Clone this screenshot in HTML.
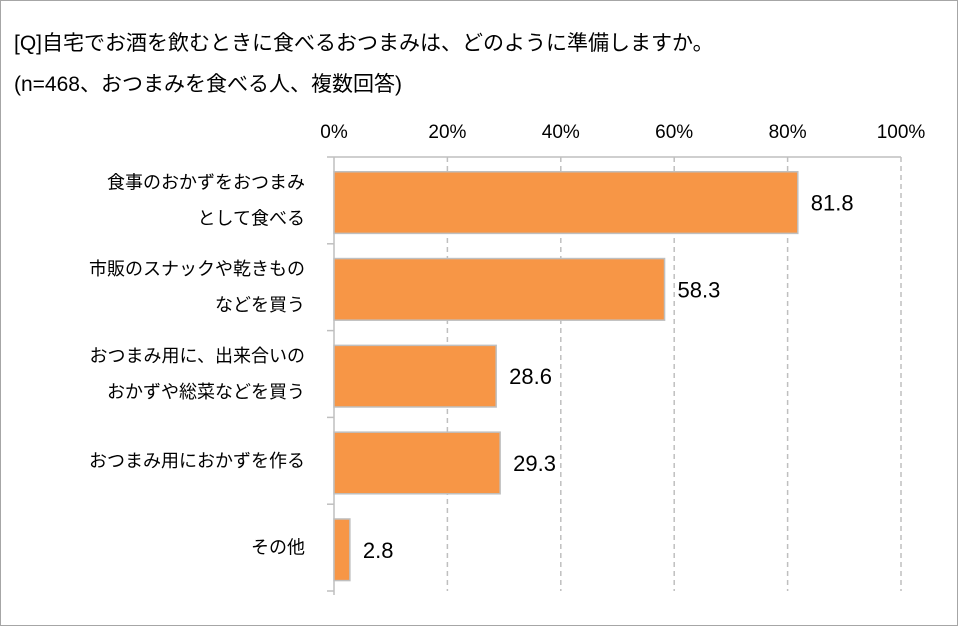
<!DOCTYPE html>
<html><head><meta charset="utf-8"><style>
body{margin:0;background:#fff}
svg text{font-family:"Liberation Sans","Noto Sans CJK JP",sans-serif;fill:#000}
</style></head><body>
<svg width="958" height="626" xmlns="http://www.w3.org/2000/svg">
<rect x="0.5" y="0.5" width="957" height="625" fill="#fff" stroke="#a6a6a6"/>
<text x="14" y="50" font-size="21">[Q]自宅でお酒を飲むときに食べるおつまみは、どのように準備しますか。</text>
<text x="14" y="91" font-size="21">(n=468、おつまみを食べる人、複数回答)</text>
<g id="plot"></g>
</svg>
<script>
const categories=[["食事のおかずをおつまみ","として食べる"],["市販のスナックや乾きもの","などを買う"],["おつまみ用に、出来合いの","おかずや総菜などを買う"],["おつまみ用におかずを作る"],["その他"]];
const values=[81.8,58.3,28.6,29.3,2.8];
const ticks=[0,20,40,60,80,100];
const tickLabels=["0%","20%","40%","60%","80%","100%"];
const NS="http://www.w3.org/2000/svg";
const g=document.getElementById('plot');
const x0=334,x1=901,y0=157,y1=591;
const xs=v=>x0+(x1-x0)*v/100;
const band=(y1-y0)/categories.length;
function mk(t,a,p){const e=document.createElementNS(NS,t);for(const k in a)e.setAttribute(k,a[k]);(p||g).appendChild(e);return e;}
ticks.forEach((t,i)=>{
 if(t>0){const l=mk('line',{x1:xs(t),x2:xs(t),y1:y0,y2:y1,stroke:'#bfbfbf','stroke-width':1.5,'stroke-dasharray':'5,4'});
 
 }
 const tx=mk('text',{x:xs(t),y:138,'font-size':19,'text-anchor':'middle'});tx.textContent=tickLabels[i];
 
 
});
const topLine=mk('line',{x1:x0,x2:x1,y1:y0,y2:y0,stroke:'#bfbfbf','stroke-width':1.5});


const ax=mk('line',{x1:x0,x2:x0,y1:y0,y2:y1+4,stroke:'#bfbfbf','stroke-width':1.5});


for(let i=0;i<=categories.length;i++){const tk=mk('line',{x1:x0-7,x2:x0,y1:y0+band*i,y2:y0+band*i,stroke:'#bfbfbf','stroke-width':1.5});
 
 }
categories.forEach((c,i)=>{
 const by=y0+band*i+band*0.17,bh=band*0.71;
 const r=mk('rect',{x:x0,y:by,width:xs(values[i])-x0,height:bh,fill:'#f79646',stroke:'#bfbfbf','stroke-width':1.5});
 
 
 const v=mk('text',{x:xs(values[i])+13,y:by+bh/2+8,'font-size':22});v.textContent=values[i].toFixed(1);
 
 
 const cy=y0+band*i+band/2;
 c.forEach((line,j)=>{const t=mk('text',{x:305,y:cy+6+(j-(c.length-1)/2)*36,'font-size':18,'text-anchor':'end'});t.textContent=line;
  
  });
});
</script>
</body></html>
